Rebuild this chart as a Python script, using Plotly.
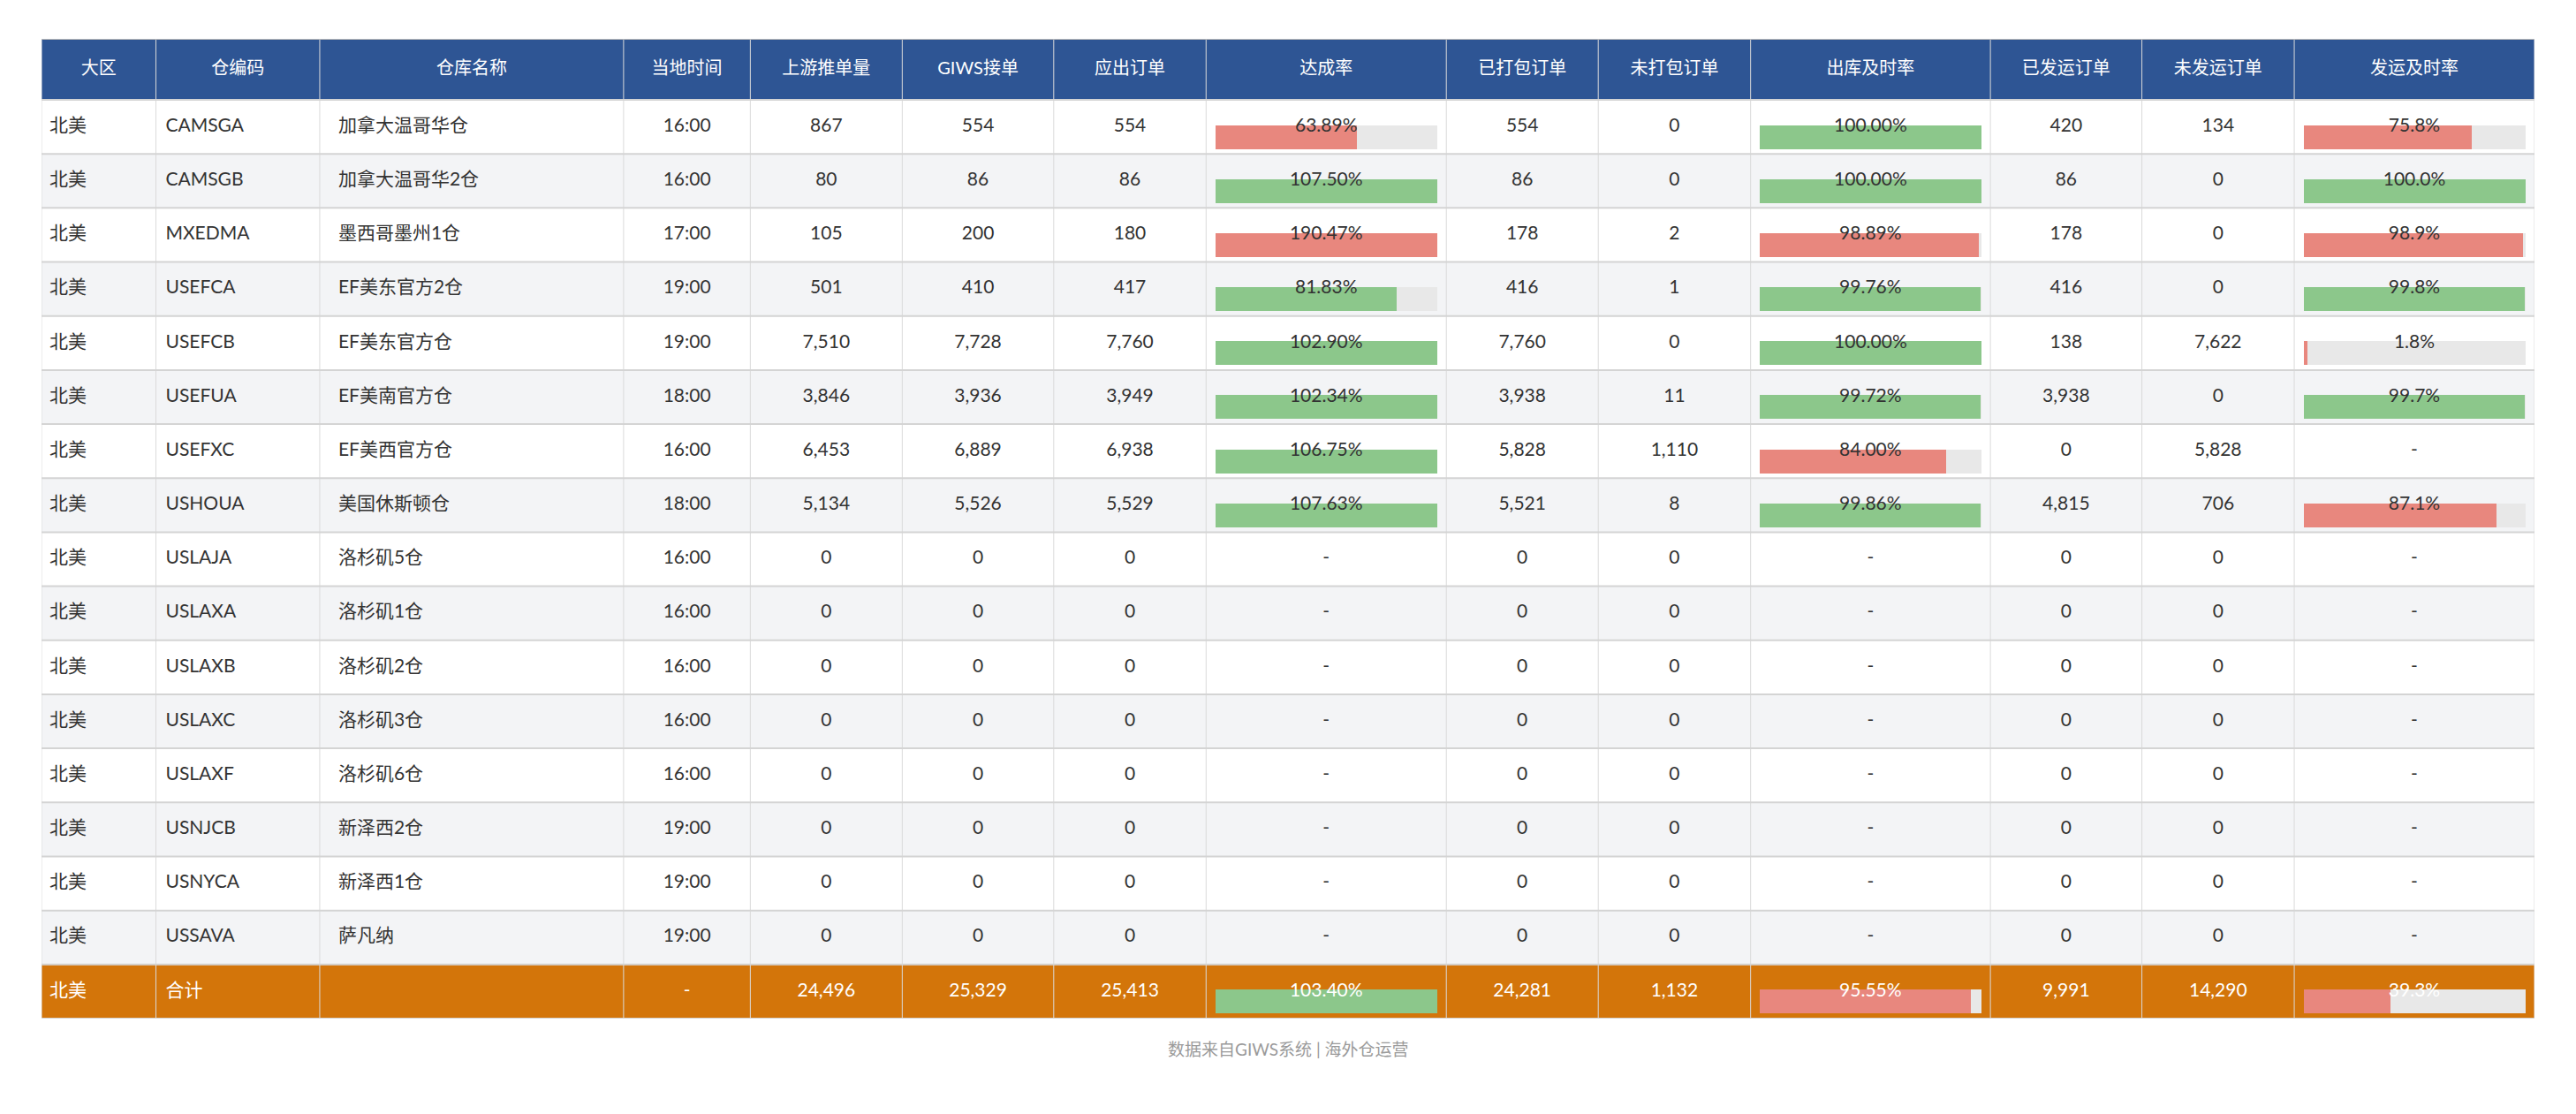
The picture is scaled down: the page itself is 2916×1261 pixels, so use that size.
import plotly.graph_objects as go

# ---- table content ----
headers = ["大区", "仓编码", "仓库名称", "当地时间", "上游推单量", "GIWS接单", "应出订单",
           "达成率", "已打包订单", "未打包订单", "出库及时率", "已发运订单", "未发运订单", "发运及时率"]

# last entry of every list is the total row
regions = ["北美"] * 17
codes = ["CAMSGA", "CAMSGB", "MXEDMA", "USEFCA", "USEFCB", "USEFUA", "USEFXC", "USHOUA",
         "USLAJA", "USLAXA", "USLAXB", "USLAXC", "USLAXF", "USNJCB", "USNYCA", "USSAVA", "合计"]
names = ["加拿大温哥华仓", "加拿大温哥华2仓", "墨西哥墨州1仓", "EF美东官方2仓", "EF美东官方仓",
         "EF美南官方仓", "EF美西官方仓", "美国休斯顿仓", "洛杉矶5仓", "洛杉矶1仓", "洛杉矶2仓",
         "洛杉矶3仓", "洛杉矶6仓", "新泽西2仓", "新泽西1仓", "萨凡纳", ""]
local_times = ["16:00", "16:00", "17:00", "19:00", "19:00", "18:00", "16:00", "18:00",
               "16:00", "16:00", "16:00", "16:00", "16:00", "19:00", "19:00", "19:00", "-"]
upstream = [867, 80, 105, 501, 7510, 3846, 6453, 5134, 0, 0, 0, 0, 0, 0, 0, 0, 24496]
giws = [554, 86, 200, 410, 7728, 3936, 6889, 5526, 0, 0, 0, 0, 0, 0, 0, 0, 25329]
due = [554, 86, 180, 417, 7760, 3949, 6938, 5529, 0, 0, 0, 0, 0, 0, 0, 0, 25413]
achieve_rate = [63.89, 107.50, 190.47, 81.83, 102.90, 102.34, 106.75, 107.63,
                None, None, None, None, None, None, None, None, 103.40]
packed = [554, 86, 178, 416, 7760, 3938, 5828, 5521, 0, 0, 0, 0, 0, 0, 0, 0, 24281]
unpacked = [0, 0, 2, 1, 0, 11, 1110, 8, 0, 0, 0, 0, 0, 0, 0, 0, 1132]
outbound_rate = [100.00, 100.00, 98.89, 99.76, 100.00, 99.72, 84.00, 99.86,
                 None, None, None, None, None, None, None, None, 95.55]
shipped = [420, 86, 178, 416, 138, 3938, 0, 4815, 0, 0, 0, 0, 0, 0, 0, 0, 9991]
unshipped = [134, 0, 0, 0, 7622, 0, 5828, 706, 0, 0, 0, 0, 0, 0, 0, 0, 14290]
ship_rate = [75.8, 100.0, 98.9, 99.8, 1.8, 99.7, None, 87.1,
             None, None, None, None, None, None, None, None, 39.3]

footer = "数据来自GIWS系统 | 海外仓运营"

# ---- layout ----
# the page body adds an 8px margin, so the figure is a bit smaller than the window
W, H = 2900, 1245
col_widths = [129.5, 185.5, 344, 143.5, 172, 171.5, 172.5, 272, 172, 172.5, 271.5, 171.5, 172.5, 272]
header_h = 69
n_rows = len(codes)
row_h = (1109 - header_h) / n_rows
table_w = sum(col_widths)
table_h = header_h + n_rows * row_h

col_left = [sum(col_widths[:j]) for j in range(len(col_widths))]
col_mid = [col_left[j] + col_widths[j] / 2 for j in range(len(col_widths))]
row_top = [header_h + i * row_h for i in range(n_rows)]
row_mid = [t + row_h / 2 for t in row_top]

BLUE = "#2e5594"
ORANGE = "#d3750a"
STRIPE = "#f3f4f6"
GREEN = "#8cc78b"
RED = "#e8877e"
TRACK = "#e8e8e8"
TEXT = "#333333"
FONT = "Lato, 'Noto Sans CJK SC', sans-serif"

fig = go.Figure()

# cell backgrounds
shapes = [dict(type="rect", xref="x", yref="y", x0=0, x1=table_w, y0=0, y1=header_h,
               fillcolor=BLUE, line_width=0, layer="below")]
for i in range(n_rows):
    if i == n_rows - 1:
        fill = ORANGE
    elif i % 2 == 1:
        fill = STRIPE
    else:
        fill = "white"
    shapes.append(dict(type="rect", xref="x", yref="y", x0=0, x1=table_w,
                       y0=row_top[i], y1=row_top[i] + row_h,
                       fillcolor=fill, line_width=0, layer="below"))

# grid lines
for j in range(len(col_widths) + 1):
    x = col_left[j] if j < len(col_widths) else table_w
    shapes.append(dict(type="line", xref="x", yref="y", x0=x, x1=x, y0=0, y1=table_h,
                       line=dict(color="#dadada", width=1), layer="below"))
shapes.append(dict(type="line", xref="x", yref="y", x0=0, x1=table_w, y0=0, y1=0,
                   line=dict(color="#b8b8b8", width=2), layer="below"))
for i in range(n_rows):
    y = row_top[i]
    shapes.append(dict(type="line", xref="x", yref="y", x0=0, x1=table_w, y0=y, y1=y,
                       line=dict(color="#d4d4d4", width=2), layer="below"))
shapes.append(dict(type="line", xref="x", yref="y", x0=0, x1=table_w, y0=table_h, y1=table_h,
                   line=dict(color="#d4d4d4", width=2), layer="below"))


def fmt_int(v):
    return f"{v:,}"


def fmt_rate(v, dec):
    return "-" if v is None else f"{v:.{dec}f}%"


# progress bars for rate columns
bar_pad = 10.5
bar_h = 27
rate_cols = [
    (7, achieve_rate, 2, lambda v: 80 <= v <= 120),
    (10, outbound_rate, 2, lambda v: v >= 99.5),
    (13, ship_rate, 1, lambda v: v >= 99.5),
]
for j, vals, dec, good in rate_cols:
    idx = [i for i, v in enumerate(vals) if v is not None]
    full = col_widths[j] - 2 * bar_pad
    ys = [row_top[i] + 42 for i in idx]
    base = [col_left[j] + bar_pad] * len(idx)
    fig.add_trace(go.Bar(orientation="h", y=ys, x=[full] * len(idx), base=base, width=bar_h,
                         marker=dict(color=TRACK, line_width=0), hoverinfo="skip",
                         showlegend=False))
    fig.add_trace(go.Bar(orientation="h", y=ys,
                         x=[min(vals[i], 100) / 100 * full for i in idx], base=base, width=bar_h,
                         marker=dict(color=[GREEN if good(vals[i]) else RED for i in idx],
                                     line_width=0),
                         hoverinfo="skip", showlegend=False))

# cell texts
columns = [
    regions, codes, names, local_times,
    [fmt_int(v) for v in upstream], [fmt_int(v) for v in giws], [fmt_int(v) for v in due],
    [fmt_rate(v, 2) for v in achieve_rate],
    [fmt_int(v) for v in packed], [fmt_int(v) for v in unpacked],
    [fmt_rate(v, 2) for v in outbound_rate],
    [fmt_int(v) for v in shipped], [fmt_int(v) for v in unshipped],
    [fmt_rate(v, 1) for v in ship_rate],
]
left_pad = {0: 9, 1: 11, 2: 21}
text_colors = [TEXT] * (n_rows - 1) + ["white"]
for j, texts in enumerate(columns):
    if j in left_pad:
        xs = [col_left[j] + left_pad[j]] * n_rows
        pos = "middle right"
    else:
        xs = [col_mid[j]] * n_rows
        pos = "middle center"
    fig.add_trace(go.Scatter(x=xs, y=row_mid, mode="text", text=texts, textposition=pos,
                             textfont=dict(family=FONT, size=21, color=text_colors),
                             hoverinfo="skip", showlegend=False))

# header texts
fig.add_trace(go.Scatter(x=col_mid, y=[header_h / 2] * len(headers), mode="text", text=headers,
                         textposition="middle center",
                         textfont=dict(family=FONT, size=20, color="white"),
                         hoverinfo="skip", showlegend=False))

fig.add_annotation(text=footer, xref="paper", yref="paper", x=0.5, y=0, yshift=-34,
                   xanchor="center", yanchor="middle", showarrow=False,
                   font=dict(family=FONT, size=19, color="#9a9a9a"))

fig.update_layout(
    width=W, height=H, autosize=False,
    margin=dict(l=39, r=W - 39 - 2822, t=36, b=H - 36 - 1109, pad=0),
    paper_bgcolor="white", plot_bgcolor="white",
    barmode="overlay", bargap=0,
    shapes=shapes,
    xaxis=dict(range=[0, table_w], visible=False, fixedrange=True),
    yaxis=dict(range=[table_h, 0], visible=False, fixedrange=True),
    hovermode=False,
)

fig.write_html("out.html")
